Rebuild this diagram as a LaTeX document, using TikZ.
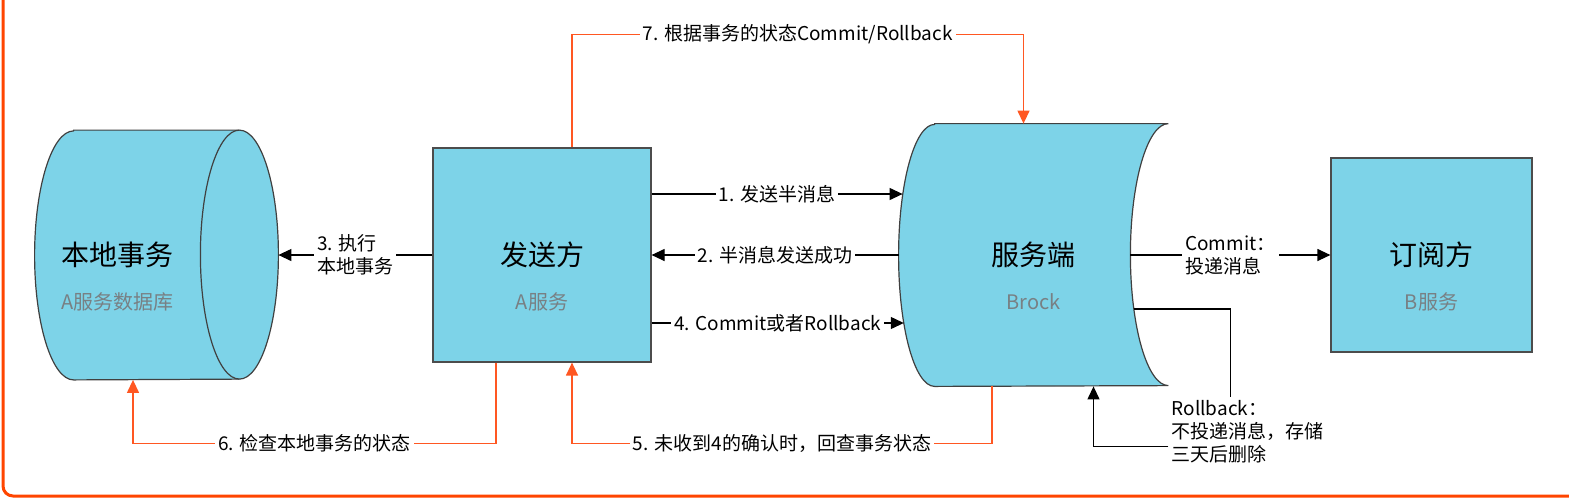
\documentclass[tikz,border=0pt]{standalone}
\usepackage{fontspec}
\setmainfont{Noto Sans CJK SC}
\usetikzlibrary{arrows.meta, positioning, backgrounds}

\definecolor{boxblue}{RGB}{125,211,232}
\definecolor{subgray}{RGB}{120,128,132}
\definecolor{linkred}{RGB}{255,87,34}
\definecolor{framered}{RGB}{255,69,0}

\begin{document}
\begin{tikzpicture}[
  x=1pt, y=1pt,
  every node/.style={font=\fontsize{9.5}{11.5}\selectfont},
  service/.style={rectangle, draw=black!70, line width=0.6pt, fill=boxblue,
                  inner sep=0pt, font=\fontsize{14}{16}\selectfont},
  hollow/.style={rectangle, inner sep=0pt, font=\fontsize{14}{16}\selectfont},
  subname/.style={label={[font=\fontsize{10}{12}\selectfont, text=subgray,
                  yshift=-23.5pt]center:#1}},
  shapeline/.style={draw=black!75, line width=0.6pt, fill=boxblue},
  msg/.style={fill=white, text=black, inner sep=1.5pt, align=left},
  arrow/.style={-{Triangle[length=6.5pt, width=6pt]}, line width=0.6pt, black},
  check/.style={-{Triangle[length=6.5pt, width=6pt]}, line width=0.65pt, linkred},
  plain/.style={line width=0.6pt, black},
  frame/.style={framered, line width=1.5pt, rounded corners=5pt}
]
  \useasboundingbox (0,0) rectangle (784.5,-250);

  % Participants, left to right
  \node[hollow, minimum width=82.5pt, minimum height=124.5pt, subname=A服务数据库]
    (localdb) at (58.75,-127.5) {本地事务};

  \node[service, minimum width=109pt, minimum height=107pt, subname=A服务,
        right=116pt of localdb] (sender) {发送方};

  \node[hollow, minimum width=134.5pt, minimum height=131pt, subname=Brock,
        right=123.5pt of sender] (broker) {服务端};

  \node[service, minimum width=100.5pt, minimum height=97pt, subname=B服务,
        right=81pt of broker] (subscriber) {订阅方};

  % Outlines of the database and the broker
  \begin{scope}[on background layer]
    \path[shapeline] ([xshift=19.5pt]localdb.north west) -- ([xshift=19.5pt]localdb.north east)
      arc[start angle=90, end angle=-90, x radius=19.5pt, y radius=62.25pt]
      -- ([xshift=19.5pt]localdb.south west)
      arc[start angle=270, end angle=90, x radius=19.5pt, y radius=62.25pt] -- cycle;
    \draw[draw=black!75, line width=0.6pt] ([xshift=19.5pt]localdb.north east)
      arc[start angle=90, end angle=270, x radius=19.5pt, y radius=62.25pt];

    \path[shapeline] ([xshift=18pt]broker.north west) -- (broker.north east)
      arc[start angle=90, end angle=270, x radius=19pt, y radius=65.5pt]
      -- ([xshift=18pt]broker.south west)
      arc[start angle=270, end angle=90, x radius=18pt, y radius=65.5pt] -- cycle;
  \end{scope}

  \node[msg, anchor=north west] (rbnote) at ([yshift=-5.5pt]broker.south east)
    {Rollback：\\不投递消息，存储\\三天后删除};

  \coordinate (topway) at ([xshift=-5pt, yshift=44.5pt]broker.north);
  \coordinate (lowway) at ([yshift=-28.5pt]broker.south);

  % Message flow
  \draw[arrow] ([yshift=30.5pt]sender.east) -- node[msg] {1. 发送半消息}
    ([xshift=2pt, yshift=30.5pt]broker.west);
  \draw[arrow] (broker.west) -- node[msg] {2. 半消息发送成功} (sender.east);
  \draw[arrow] (sender.west) -- node[msg] {3. 执行\\本地事务} ([xshift=39pt]localdb.east);
  \draw[arrow] ([yshift=-34pt]sender.east) -- node[msg] {4. Commit或者Rollback}
    ([xshift=2.6pt, yshift=-34pt]broker.west);
  \draw[arrow] ([xshift=-19pt]broker.east) -- node[msg] {Commit：\\投递消息} (subscriber.west);
  \draw[plain] ([xshift=-17.3pt, yshift=-27pt]broker.east) -| ([xshift=31pt]rbnote.north west);
  \draw[arrow] ([yshift=-7pt]rbnote.west) -| ([xshift=30pt]broker.south);

  % Status check-back (orange)
  \draw[check] ([xshift=-20.75pt]broker.south) |- node[msg, pos=0.75] {5. 未收到4的确认时，回查事务状态}
    ([xshift=15pt]sender.south |- lowway) -- ([xshift=15pt]sender.south);
  \draw[check] ([xshift=-23pt]sender.south) |- node[msg, pos=0.75] {6. 检查本地事务的状态}
    ([xshift=7.75pt]localdb.south |- lowway) -- ([xshift=7.75pt]localdb.south);
  \draw[check] ([xshift=15pt]sender.north) |- node[msg, pos=0.75] {7. 根据事务的状态Commit/Rollback}
    (topway) -- (topway |- broker.north);

  \draw[frame] (1.5,0) -- (1.5,-248) -- (800,-248);
\end{tikzpicture}
\end{document}
